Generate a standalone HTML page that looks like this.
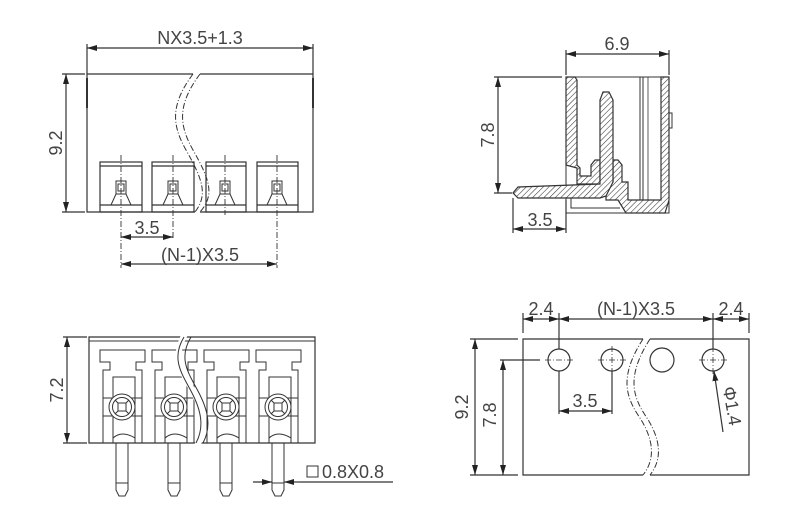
<!DOCTYPE html>
<html><head><meta charset="utf-8"><style>
html,body{margin:0;padding:0;background:#fff;}
svg{display:block}
text{font-family:"Liberation Sans",sans-serif;font-size:18px;fill:#444;}
</style></head><body>
<svg width="800" height="531" viewBox="0 0 800 531" xmlns="http://www.w3.org/2000/svg">
<defs>
<pattern id="h" width="4" height="4" patternUnits="userSpaceOnUse" patternTransform="rotate(45)">
<rect width="4" height="4" fill="#fff"/><line x1="0" y1="0" x2="0" y2="4" stroke="#333" stroke-width="1.1"/>
</pattern>
<marker id="a" viewBox="0 0 10 6" refX="10" refY="3" markerWidth="10" markerHeight="6" orient="auto-start-reverse" markerUnits="userSpaceOnUse">
<path d="M0,0 L10,3 L0,6 z" fill="#222"/></marker>
</defs>
<g stroke="#333" stroke-width="1.2" fill="none">
<!-- TOP LEFT -->
<line x1="87" y1="44" x2="87" y2="74"/><line x1="313" y1="44" x2="313" y2="74"/>
<line x1="87" y1="48" x2="313" y2="48" marker-start="url(#a)" marker-end="url(#a)"/>
<line x1="62" y1="74" x2="85" y2="74"/><line x1="62" y1="212" x2="85" y2="212"/>
<line x1="66" y1="74" x2="66" y2="212" marker-start="url(#a)" marker-end="url(#a)"/>
<path d="M193,74 H87 V212 H195 M200,212 H313 V74 H200"/>
<line x1="87" y1="78" x2="87" y2="108" stroke-width="2"/><line x1="313" y1="78" x2="313" y2="108" stroke-width="2"/>
<path d="M193,74 C170,105 172,125 186,150 C203,180 208,195 195,212" stroke-dasharray="6,2,1,2" stroke-width="1"/>
<path d="M200,74 C177,105 179,125 193,150 C210,180 215,195 200,212" stroke-dasharray="6,2,1,2" stroke-width="1"/>
<g>
<rect x="100" y="162" width="42" height="50"/><line x1="100" y1="166" x2="142" y2="166"/><line x1="100" y1="205" x2="142" y2="205"/>
<rect x="152" y="162" width="42" height="50"/><line x1="152" y1="166" x2="194" y2="166"/><line x1="152" y1="205" x2="194" y2="205"/>
<rect x="206" y="162" width="40" height="50"/><line x1="206" y1="166" x2="246" y2="166"/><line x1="206" y1="205" x2="246" y2="205"/>
<rect x="257" y="162" width="41" height="50"/><line x1="257" y1="166" x2="298" y2="166"/><line x1="257" y1="205" x2="298" y2="205"/>
</g>
<g stroke-width="1">
<g transform="translate(121,0)"><rect x="-5" y="181" width="10" height="13"/><rect x="-3" y="184" width="6" height="7"/><path d="M-5,194 L-10,205 M5,194 L10,205"/></g>
<g transform="translate(173,0)"><rect x="-5" y="181" width="10" height="13"/><rect x="-3" y="184" width="6" height="7"/><path d="M-5,194 L-10,205 M5,194 L10,205"/></g>
<g transform="translate(225,0)"><rect x="-5" y="181" width="10" height="13"/><rect x="-3" y="184" width="6" height="7"/><path d="M-5,194 L-10,205 M5,194 L10,205"/></g>
<g transform="translate(277,0)"><rect x="-5" y="181" width="10" height="13"/><rect x="-3" y="184" width="6" height="7"/><path d="M-5,194 L-10,205 M5,194 L10,205"/></g>
</g>
<g stroke-dasharray="6,2,1,2" stroke-width="0.9">
<line x1="121" y1="155" x2="121" y2="268"/><line x1="173" y1="155" x2="173" y2="240"/>
<line x1="225" y1="155" x2="225" y2="215"/><line x1="277" y1="155" x2="277" y2="268"/>
</g>
<line x1="121" y1="237" x2="173" y2="237" marker-start="url(#a)" marker-end="url(#a)"/>
<line x1="121" y1="264" x2="277" y2="264" marker-start="url(#a)" marker-end="url(#a)"/>

<!-- TOP RIGHT -->
<line x1="566" y1="50" x2="566" y2="75"/><line x1="669" y1="50" x2="669" y2="75"/>
<line x1="566" y1="54" x2="669" y2="54" marker-start="url(#a)" marker-end="url(#a)"/>
<line x1="494" y1="77" x2="562" y2="77"/><line x1="494" y1="193" x2="512" y2="193"/>
<line x1="498" y1="77" x2="498" y2="193" marker-start="url(#a)" marker-end="url(#a)"/>
<line x1="513" y1="198" x2="513" y2="233"/><line x1="566" y1="200" x2="566" y2="233"/>
<line x1="513" y1="229" x2="566" y2="229" marker-start="url(#a)" marker-end="url(#a)"/>
<path d="M566,77 H669 V213 H566 Z" stroke-width="1"/>
<path d="M571,198 V208 H620" stroke-width="1"/>
<path d="M566,77 H575 L577,80 V165 L580,168 V176 H591 V165 L595,160 H600 V184 H577 V168 L566,165 Z" fill="url(#h)"/>
<path d="M661,77 H669 V200 L665,213 H626 L618,200 H606 V186 L613,182 L613,160 H618 L622,165 V182 H628 V200 H661 Z" fill="url(#h)"/>
<path d="M600,184 V100 L603,92 H609 L613,100 V182 L606,196 L600,198 H518 L513,193 L518,187 Z" fill="url(#h)"/>
<line x1="640" y1="77" x2="640" y2="200" stroke-width="1"/><line x1="643" y1="77" x2="643" y2="200" stroke-width="1"/>
<line x1="648" y1="77" x2="648" y2="200" stroke-width="0.8"/>
<path d="M669,113 H672 V128 H669" stroke-width="1"/>

<!-- BOTTOM LEFT -->
<line x1="63" y1="337" x2="87" y2="337"/><line x1="63" y1="443" x2="87" y2="443"/>
<line x1="67" y1="337" x2="67" y2="443" marker-start="url(#a)" marker-end="url(#a)"/>
<path d="M89,337 H315 V443 H89 Z"/>
<line x1="89" y1="341" x2="315" y2="341" stroke-width="1"/>
<g stroke-width="1">
<g id="c">
<path d="M103,443 V370 H110 V362 H100 V350 H145 V362 H136 V370 H142 V443"/>
<rect x="113" y="377" width="22" height="66"/>
<line x1="103" y1="398" x2="142" y2="398"/><line x1="103" y1="416" x2="142" y2="416"/>
<circle cx="122" cy="407" r="13" fill="#fff"/><circle cx="122" cy="407" r="9.5"/>
<rect x="118" y="403" width="8" height="8"/><path d="M115,400 L118,403 M129,400 L126,403 M115,414 L118,411 M129,414 L126,411"/>
<path d="M113,438 Q122,430 135,438"/>
<path d="M116,443 V490 L119,496 H125 L128,490 V443 M116,483 H128"/>
</g>
<use href="#c" x="52"/><use href="#c" x="104"/><use href="#c" x="156"/>
</g>
<path d="M185,334 C170,360 185,375 195,395 C205,415 205,430 197,446" stroke="#fff" stroke-width="6"/>
<path d="M184,337 C170,360 183,375 193,395 C203,415 203,430 196,443" stroke-width="1"/>
<path d="M191,337 C177,360 190,375 200,395 C210,415 210,430 203,443" stroke-width="1"/>
<line x1="253" y1="482" x2="272" y2="482" marker-end="url(#a)"/>
<line x1="300" y1="482" x2="284" y2="482" marker-end="url(#a)"/>
<line x1="300" y1="482" x2="393" y2="482"/>
<rect x="307" y="466" width="11" height="11" stroke-width="1"/>

<!-- BOTTOM RIGHT -->
<path d="M643,339 H523 V475 H643 M650,475 H749 V339 H650"/>
<path d="M643,339 C620,375 625,395 638,415 C655,440 655,460 643,475" stroke-dasharray="6,2,1,2" stroke-width="1"/>
<path d="M650,339 C627,375 632,395 645,415 C662,440 662,460 650,475" stroke-dasharray="6,2,1,2" stroke-width="1"/>
<line x1="523" y1="313" x2="523" y2="333"/><line x1="749" y1="313" x2="749" y2="333"/>
<line x1="559" y1="313" x2="559" y2="349"/><line x1="713" y1="313" x2="713" y2="349"/>
<line x1="523" y1="319" x2="559" y2="319" marker-start="url(#a)" marker-end="url(#a)"/>
<line x1="559" y1="319" x2="713" y2="319" marker-start="url(#a)" marker-end="url(#a)"/>
<line x1="713" y1="319" x2="749" y2="319" marker-start="url(#a)" marker-end="url(#a)"/>
<circle cx="559" cy="360" r="11"/><circle cx="612" cy="360" r="11"/><circle cx="662" cy="360" r="12"/><circle cx="713" cy="360" r="11"/>
<g stroke-dasharray="6,2,1,2" stroke-width="0.8">
<line x1="545" y1="360" x2="573" y2="360"/><line x1="598" y1="360" x2="626" y2="360"/><line x1="699" y1="360" x2="727" y2="360"/>
<line x1="612" y1="346" x2="612" y2="374"/><line x1="713" y1="346" x2="713" y2="374"/>
</g>
<line x1="559" y1="371" x2="559" y2="414"/><line x1="612" y1="371" x2="612" y2="414"/>
<line x1="559" y1="411" x2="612" y2="411" marker-start="url(#a)" marker-end="url(#a)"/>
<line x1="470" y1="339" x2="518" y2="339"/><line x1="470" y1="475" x2="518" y2="475"/>
<line x1="475" y1="339" x2="475" y2="475" marker-start="url(#a)" marker-end="url(#a)"/>
<line x1="500" y1="360" x2="540" y2="360"/>
<line x1="503" y1="360" x2="503" y2="475" marker-start="url(#a)" marker-end="url(#a)"/>
<line x1="723" y1="432" x2="714" y2="371" marker-end="url(#a)"/>
</g>
<g>
<text x="200" y="44" text-anchor="middle">NX3.5+1.3</text>
<text transform="translate(62,143) rotate(-90)" text-anchor="middle">9.2</text>
<text x="147" y="234" text-anchor="middle">3.5</text>
<text x="200" y="261" text-anchor="middle">(N-1)X3.5</text>
<text x="617" y="50" text-anchor="middle">6.9</text>
<text transform="translate(494,135) rotate(-90)" text-anchor="middle">7.8</text>
<text x="540" y="226" text-anchor="middle">3.5</text>
<text transform="translate(63,390) rotate(-90)" text-anchor="middle">7.2</text>
<text x="322" y="478">0.8X0.8</text>
<text x="541" y="315" text-anchor="middle">2.4</text>
<text x="636" y="315" text-anchor="middle">(N-1)X3.5</text>
<text x="731" y="315" text-anchor="middle">2.4</text>
<text transform="translate(468,407) rotate(-90)" text-anchor="middle">9.2</text>
<text transform="translate(496,415) rotate(-90)" text-anchor="middle">7.8</text>
<text x="585" y="407" text-anchor="middle">3.5</text>
<text transform="translate(726,407) rotate(80)" text-anchor="middle">Φ1.4</text>
</g>
</svg>
</body></html>
